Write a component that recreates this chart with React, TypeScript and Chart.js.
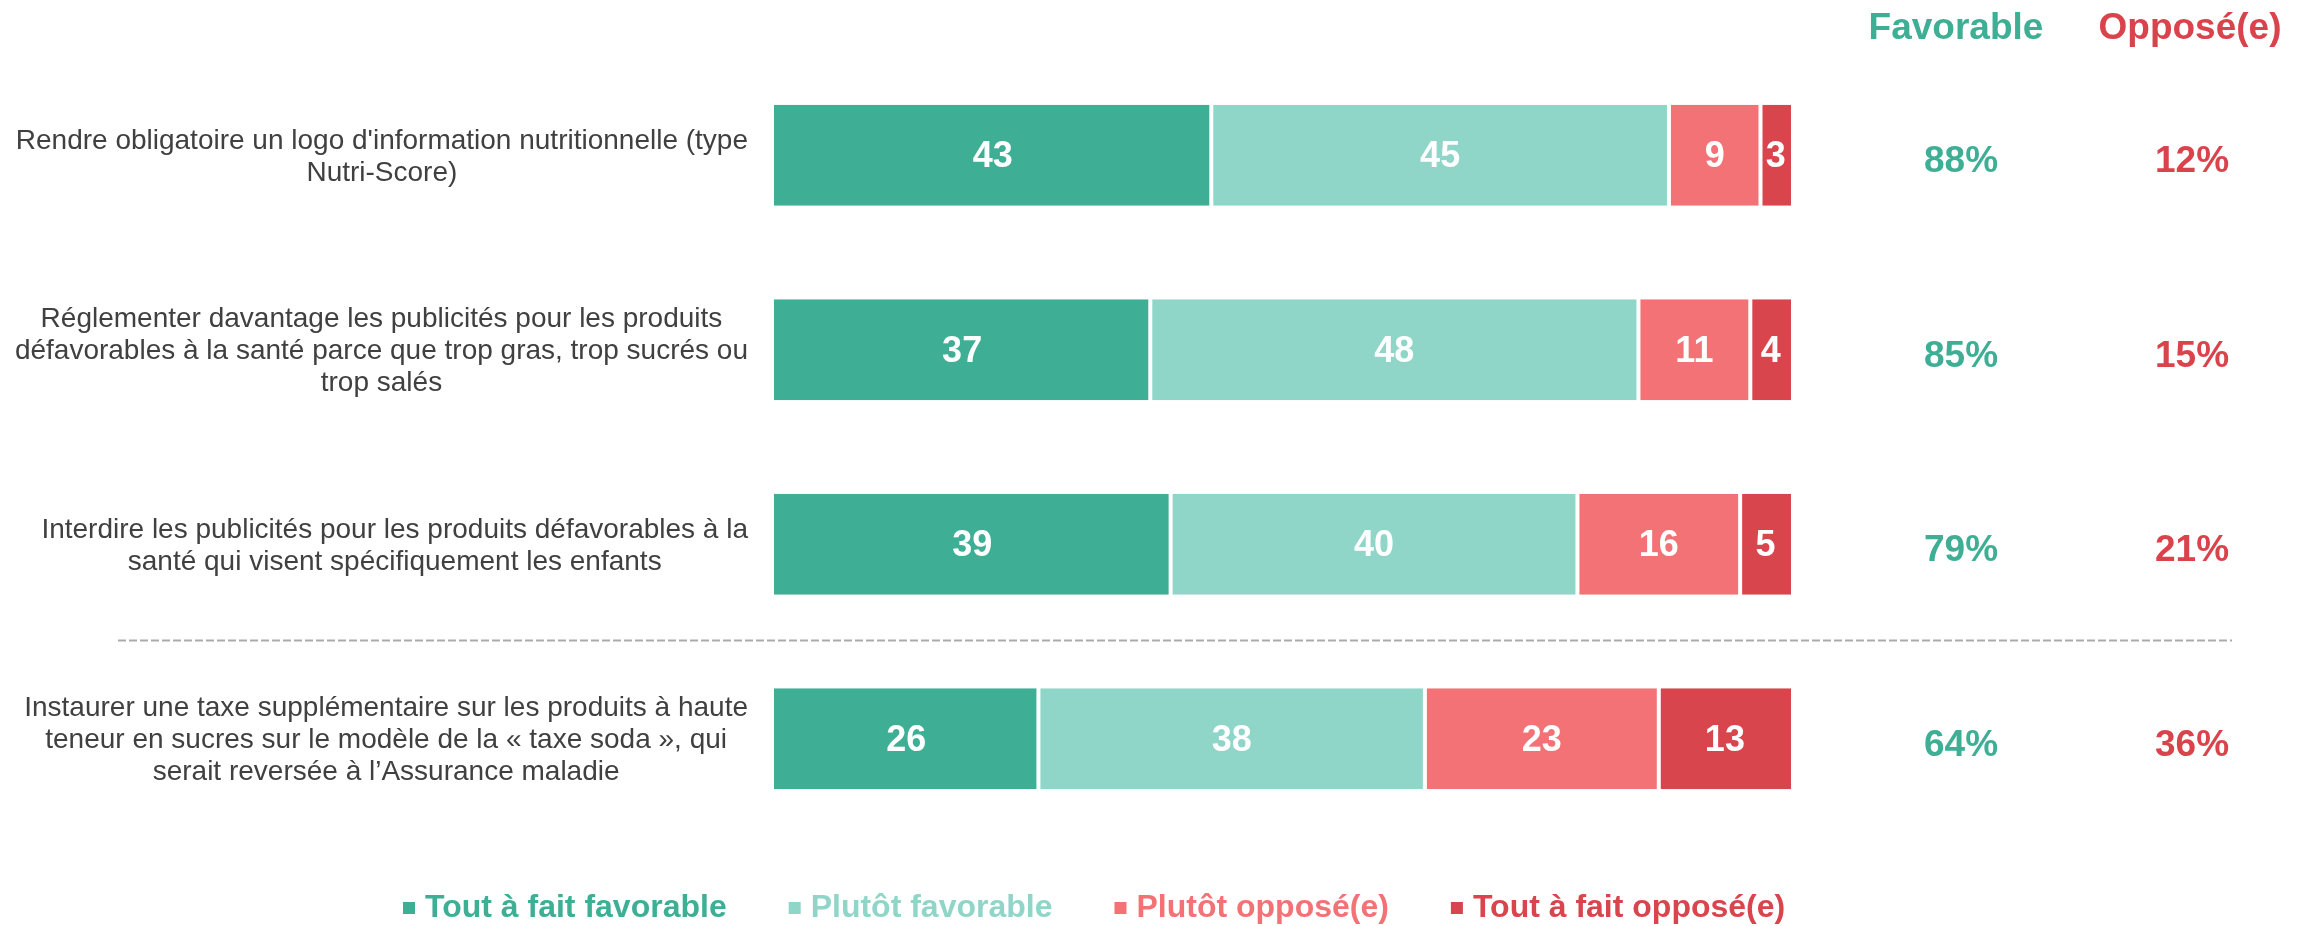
import React, { useEffect, useRef } from "react";
import { Chart, registerables } from "chart.js";

Chart.register(...registerables);

const categories: string[][] = [
  ["Rendre obligatoire un logo d'information nutritionnelle (type", "Nutri-Score)"],
  [
    "Réglementer davantage les publicités pour les produits",
    "défavorables à la santé parce que trop gras, trop sucrés ou",
    "trop salés",
  ],
  ["Interdire les publicités pour les produits défavorables à la", "santé qui visent spécifiquement les enfants"],
  [
    "Instaurer une taxe supplémentaire sur les produits à haute",
    "teneur en sucres sur le modèle de la « taxe soda », qui",
    "serait reversée à l’Assurance maladie",
  ],
];

const seriesLabels = ["Tout à fait favorable", "Plutôt favorable", "Plutôt opposé(e)", "Tout à fait opposé(e)"];
const toutFavorable = [43, 37, 39, 26];
const plutotFavorable = [45, 48, 40, 38];
const plutotOppose = [9, 11, 16, 23];
const toutOppose = [3, 4, 5, 13];
const favorableTotals = [88, 85, 79, 64];
const opposedTotals = [12, 15, 21, 36];
const summaryHeaders = ["Favorable", "Opposé(e)"];

const seriesColors = ["#3EAE94", "#8FD6C8", "#F37276", "#D8454C"];
const FONT = "'Liberation Sans', Arial, sans-serif";

const W = 2313;
const H = 926;

const customDraw = {
  id: "customDraw",
  afterDatasetsDraw(chart: any) {
    const ctx = chart.ctx;
    const area = chart.chartArea;
    const yScale = chart.scales.y;
    ctx.save();

    // value labels inside segments
    ctx.fillStyle = "#FFFFFF";
    ctx.font = `bold 36px ${FONT}`;
    ctx.textAlign = "center";
    ctx.textBaseline = "middle";
    chart.data.datasets.forEach((ds: any, di: number) => {
      const meta = chart.getDatasetMeta(di);
      meta.data.forEach((bar: any, i: number) => {
        const p = bar.getProps(["x", "y", "base"], true);
        ctx.fillText(String(ds.data[i]), (p.x + p.base) / 2, p.y + 2);
      });
    });

    // category labels (block right-aligned, lines centered)
    ctx.fillStyle = "#404040";
    ctx.font = `28px ${FONT}`;
    const lh = 32;
    categories.forEach((lines, i) => {
      const yc = yScale.getPixelForValue(i) + 2;
      let maxW = 0;
      lines.forEach((l) => {
        maxW = Math.max(maxW, ctx.measureText(l).width);
      });
      const cx = area.left - 26 - maxW / 2;
      const y0 = yc - ((lines.length - 1) * lh) / 2;
      lines.forEach((l, k) => {
        ctx.fillText(l, cx, y0 + k * lh);
      });
    });

    // dashed separator between 3rd and 4th rows
    const ySep = (yScale.getPixelForValue(2) + yScale.getPixelForValue(3)) / 2 - 1;
    ctx.strokeStyle = "#ABABAB";
    ctx.lineWidth = 2;
    ctx.setLineDash([8, 3]);
    ctx.beginPath();
    ctx.moveTo(118, ySep);
    ctx.lineTo(2232, ySep);
    ctx.stroke();
    ctx.setLineDash([]);

    // summary columns
    const favX = 1961;
    const oppX = 2192;
    ctx.font = `bold 37px ${FONT}`;
    ctx.fillStyle = seriesColors[0];
    ctx.fillText(summaryHeaders[0], 1956, 29);
    ctx.fillStyle = "#D9434B";
    ctx.fillText(summaryHeaders[1], 2190, 29);
    favorableTotals.forEach((v, i) => {
      const y = yScale.getPixelForValue(i) + 7;
      ctx.fillStyle = seriesColors[0];
      ctx.fillText(`${v}%`, favX, y);
      ctx.fillStyle = "#D9434B";
      ctx.fillText(`${opposedTotals[i]}%`, oppX, y);
    });

    // legend
    ctx.font = `bold 32px ${FONT}`;
    ctx.textAlign = "left";
    let x = 403;
    const ly = 908;
    chart.data.datasets.forEach((ds: any) => {
      ctx.fillStyle = ds.backgroundColor;
      ctx.fillRect(x, ly - 6, 12, 12);
      ctx.fillText(ds.label, x + 22, ly);
      x += 22 + ctx.measureText(ds.label).width + 62;
    });

    ctx.restore();
  },
};

export default function App() {
  const ref = useRef<HTMLCanvasElement | null>(null);

  useEffect(() => {
    if (!ref.current) return;
    const seriesData = [toutFavorable, plutotFavorable, plutotOppose, toutOppose];
    const chart = new Chart(ref.current, {
      type: "bar",
      data: {
        labels: categories.map((c) => c.join(" ")),
        datasets: seriesData.map((d, di) => ({
          label: seriesLabels[di],
          data: d,
          backgroundColor: seriesColors[di],
          borderColor: "#FFFFFF",
          borderSkipped: false,
          borderWidth: {
            top: 0,
            bottom: 0,
            left: di === 0 ? 0 : 2,
            right: di === 3 ? 0 : 2,
          },
          barPercentage: 0.52,
          categoryPercentage: 1,
        })),
      },
      options: {
        indexAxis: "y",
        animation: false,
        responsive: false,
        maintainAspectRatio: false,
        devicePixelRatio: 1,
        layout: { padding: { left: 774, right: W - 1791, top: 58, bottom: 90 } },
        plugins: {
          legend: { display: false },
          tooltip: { enabled: false },
          title: { display: false },
        },
        scales: {
          x: { stacked: true, min: 0, max: 100, display: false, grid: { display: false } },
          y: { stacked: true, display: false, grid: { display: false } },
        },
      } as any,
      plugins: [customDraw],
    });
    return () => chart.destroy();
  }, []);

  return (
    <div style={{ position: "fixed", left: 0, top: 0, width: W, height: H, background: "#FFFFFF", overflow: "hidden" }}>
      <canvas ref={ref} width={W} height={H} style={{ width: W, height: H, display: "block" }} />
    </div>
  );
}
